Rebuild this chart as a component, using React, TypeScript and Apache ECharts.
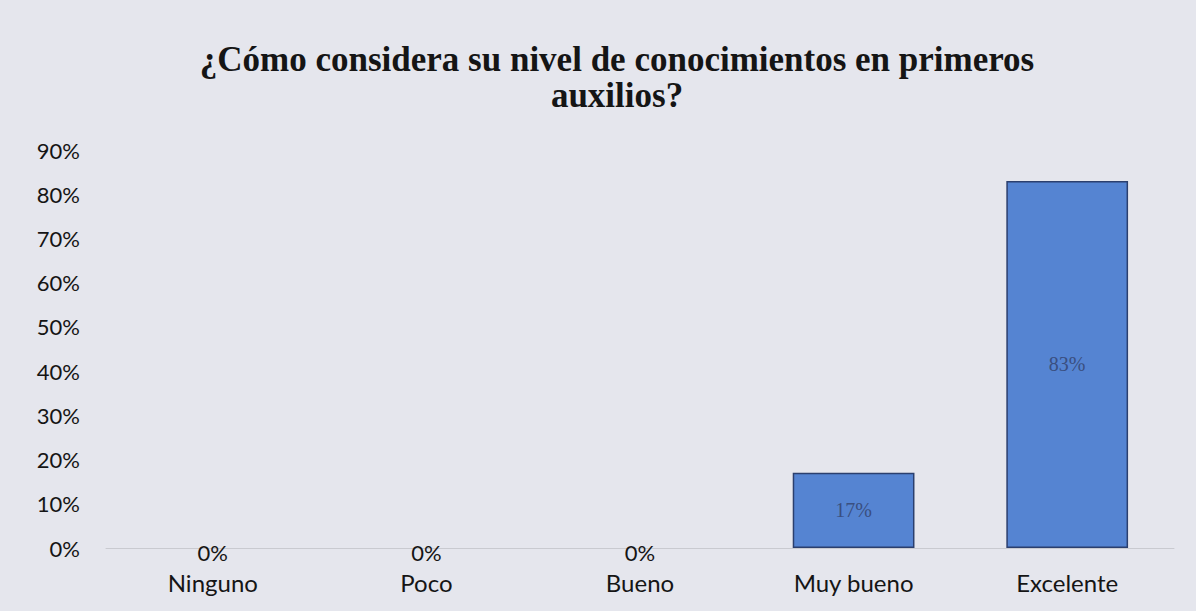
import React, { useEffect, useRef } from "react";
import * as echarts from "echarts";

const categories = ["Ninguno", "Poco", "Bueno", "Muy bueno", "Excelente"];
const values = [0, 0, 0, 17, 83];
const titleText = "¿Cómo considera su nivel de conocimientos en primeros\nauxilios?";

export default function App() {
  const ref = useRef<HTMLDivElement>(null);
  useEffect(() => {
    document.body.style.margin = "0";
    const chart = echarts.init(ref.current!, null, { renderer: "svg" });
    chart.setOption({
      animation: false,
      backgroundColor: "#e5e6ed",
      title: {
        text: titleText,
        left: 612,
        textAlign: "center",
        top: 36,
        textStyle: {
          fontFamily: "Liberation Serif",
          fontWeight: "bold",
          fontSize: 35,
          lineHeight: 36,
          color: "#151515",
        },
      },
      grid: { left: 106, right: 22, top: 150, bottom: 63 },
      xAxis: {
        type: "category",
        data: categories,
        axisLine: { lineStyle: { color: "#c9cad0", width: 1 } },
        axisTick: { show: false },
        axisLabel: {
          fontFamily: "Lato",
          fontSize: 24,
          color: "#151515",
          margin: 22,
        },
      },
      yAxis: {
        type: "value",
        min: 0,
        max: 90,
        interval: 10,
        splitLine: { show: false },
        axisLine: { show: false },
        axisTick: { show: false },
        axisLabel: {
          formatter: "{value}%",
          fontFamily: "Lato",
          fontSize: 22,
          color: "#151515",
          margin: 26,
        },
      },
      series: [
        {
          type: "bar",
          barWidth: "57%",
          data: values.map((v) =>
            v === 0
              ? {
                  value: v,
                  itemStyle: { borderWidth: 0 },
                  label: {
                    fontFamily: "Lato",
                    fontSize: 22,
                    color: "#151515",
                    offset: [0, 4],
                  },
                }
              : v
          ),
          itemStyle: {
            color: "#5584d2",
            borderColor: "#2b3f6e",
            borderWidth: 1.5,
          },
          label: {
            show: true,
            position: "inside",
            formatter: (p: any) => p.value + "%",
            fontFamily: "Liberation Serif",
            fontSize: 20,
            color: "#3a4f80",
          },
        },
      ],
    });
    return () => chart.dispose();
  }, []);
  return (
    <div
      ref={ref}
      style={{ position: "fixed", left: 0, top: 0, width: 1196, height: 611 }}
    />
  );
}
